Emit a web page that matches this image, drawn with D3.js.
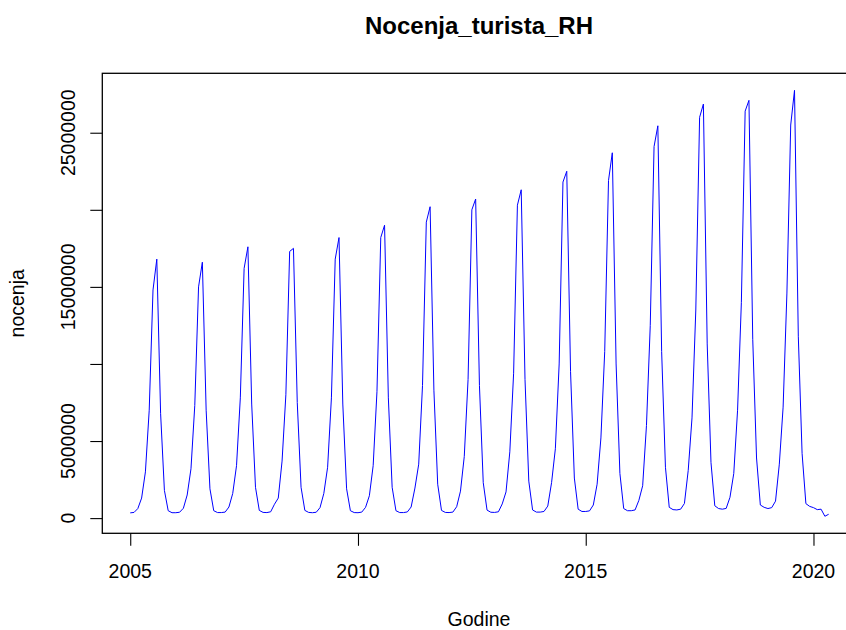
<!DOCTYPE html>
<html>
<head>
<meta charset="utf-8">
<script src="https://cdn.jsdelivr.net/npm/d3@7"></script>
<style>
  html, body { margin: 0; padding: 0; background: #ffffff; }
  svg { display: block; }
  text { font-family: "Liberation Sans", Arial, sans-serif; fill: #000; }
</style>
</head>
<body>
<svg id="chart" width="846" height="630"></svg>
<script>
// ---- data ----
const title = "Nocenja_turista_RH";
const xLabel = "Godine";
const yLabel = "nocenja";
const startYear = 2005;          // monthly series starts January 2005
const xTickValues = [2005, 2010, 2015, 2020];
const yTickValues = [0, 5000000, 10000000, 15000000, 20000000, 25000000];
const yTickLabels = ["0", "5000000", "", "15000000", "", "25000000"];
const nocenja = [
  // 2005
  340000, 370000, 620000, 1300000, 3000000, 7000000, 14800000, 16800000, 6800000, 1800000, 480000, 350000,
  // 2006
  350000, 380000, 640000, 1500000, 3200000, 7300000, 15000000, 16600000, 7000000, 1900000, 480000, 360000,
  // 2007
  360000, 390000, 720000, 1600000, 3400000, 7800000, 16200000, 17600000, 7400000, 2000000, 500000, 370000,
  // 2008
  360000, 410000, 900000, 1300000, 3700000, 8000000, 17300000, 17500000, 7500000, 2000000, 500000, 370000,
  // 2009
  350000, 380000, 680000, 1600000, 3300000, 7800000, 16800000, 18200000, 7400000, 1900000, 480000, 360000,
  // 2010
  350000, 390000, 700000, 1450000, 3400000, 8200000, 18200000, 19000000, 7800000, 2000000, 480000, 360000,
  // 2011
  360000, 400000, 720000, 1950000, 3500000, 8600000, 19200000, 20200000, 8300000, 2200000, 500000, 370000,
  // 2012
  360000, 390000, 740000, 1750000, 4000000, 9000000, 20000000, 20700000, 8600000, 2300000, 520000, 380000,
  // 2013
  370000, 410000, 920000, 1700000, 4300000, 9400000, 20300000, 21300000, 9000000, 2400000, 530000, 390000,
  // 2014
  390000, 430000, 780000, 2300000, 4500000, 10000000, 21800000, 22500000, 9500000, 2600000, 580000, 430000,
  // 2015
  430000, 470000, 850000, 2200000, 5200000, 10800000, 21900000, 23700000, 10000000, 2900000, 620000, 480000,
  // 2016
  480000, 530000, 1150000, 2100000, 6000000, 12500000, 24100000, 25450000, 10800000, 3300000, 700000, 550000,
  // 2017
  530000, 580000, 950000, 3100000, 6500000, 13500000, 26000000, 26860000, 11300000, 3600000, 800000, 620000,
  // 2018
  580000, 630000, 1350000, 2900000, 7000000, 14000000, 26400000, 27100000, 11600000, 3900000, 850000, 700000,
  // 2019
  620000, 680000, 1100000, 3500000, 7200000, 14600000, 25500000, 27750000, 11800000, 4200000, 940000, 760000,
  // 2020
  680000, 550000, 580000, 120000, 250000
];

// ---- layout ----
const svg = d3.select("#chart");
const plot = { left: 102.3, top: 73.3, bottom: 533.3, right: 856.6 };
const fontSize = "19.5px";

const series = nocenja.map((v, i) => ({ t: startYear + i / 12, v }));

// R-style 4% axis extension
const tExt = d3.extent(series, d => d.t);
const vExt = d3.extent(series, d => d.v);
const tPad = (tExt[1] - tExt[0]) * 0.04;
const vPad = (vExt[1] - vExt[0]) * 0.04;

const x = d3.scaleLinear().domain([tExt[0] - tPad, tExt[1] + tPad]).range([plot.left, plot.right]);
const y = d3.scaleLinear().domain([vExt[0] - vPad, vExt[1] + vPad]).range([plot.bottom, plot.top]);

// line
svg.append("path")
  .datum(series)
  .attr("fill", "none")
  .attr("stroke", "#0000ff")
  .attr("stroke-width", 1)
  .attr("stroke-linejoin", "round")
  .attr("d", d3.line().x(d => x(d.t)).y(d => y(d.v)));

// box
svg.append("rect")
  .attr("x", plot.left).attr("y", plot.top)
  .attr("width", plot.right - plot.left).attr("height", plot.bottom - plot.top)
  .attr("fill", "none").attr("stroke", "#000").attr("stroke-width", 1.3);

// x axis (ticks from d3 axis, labels placed R-style)
const xAxis = svg.append("g")
  .attr("transform", `translate(0,${plot.bottom})`)
  .call(d3.axisBottom(x).tickValues(xTickValues).tickFormat("").tickSize(12.5).tickSizeOuter(0));
xAxis.select(".domain").remove();
xAxis.selectAll(".tick line").attr("stroke", "#000").attr("stroke-width", 1.1);
xAxis.selectAll(".tick text").remove();
svg.append("g").selectAll("text")
  .data(xTickValues)
  .join("text")
  .attr("x", d => x(d))
  .attr("y", plot.bottom + 44.3)
  .attr("text-anchor", "middle")
  .style("font-size", fontSize)
  .text(d => d3.format("d")(d));

// y axis
const yAxis = svg.append("g")
  .attr("transform", `translate(${plot.left},0)`)
  .call(d3.axisLeft(y).tickValues(yTickValues).tickFormat("").tickSize(12).tickSizeOuter(0));
yAxis.select(".domain").remove();
yAxis.selectAll(".tick line").attr("stroke", "#000").attr("stroke-width", 1.1);
yAxis.selectAll(".tick text").remove();
svg.append("g").selectAll("text")
  .data(yTickValues.map((v, i) => ({ v, label: yTickLabels[i] })))
  .join("text")
  .attr("transform", d => `translate(${plot.left - 27.8},${y(d.v)}) rotate(-90)`)
  .attr("text-anchor", "middle")
  .style("font-size", fontSize)
  .text(d => d.label);

// title
svg.append("text")
  .attr("x", 479).attr("y", 34)
  .attr("text-anchor", "middle")
  .style("font-size", "24px").style("font-weight", "bold")
  .text(title);

// x label
svg.append("text")
  .attr("x", 479).attr("y", 626)
  .attr("text-anchor", "middle")
  .style("font-size", fontSize)
  .text(xLabel);

// y label
svg.append("text")
  .attr("transform", `translate(24,${(plot.top + plot.bottom) / 2}) rotate(-90)`)
  .attr("text-anchor", "middle")
  .style("font-size", fontSize)
  .text(yLabel);
</script>
</body>
</html>
